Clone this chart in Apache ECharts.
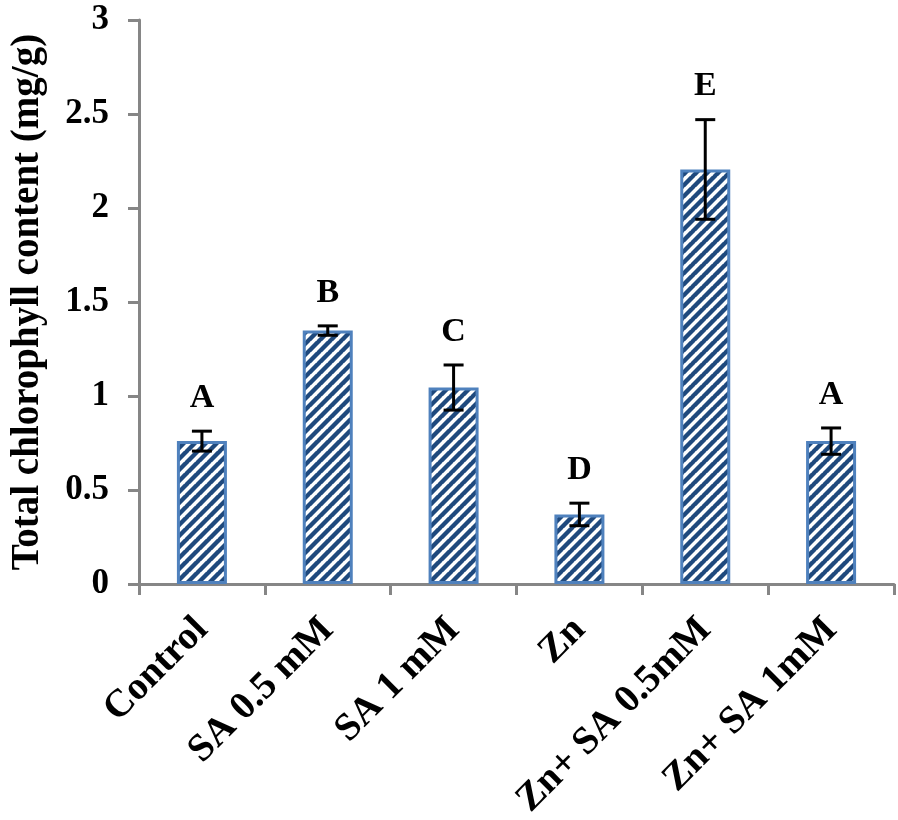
<!DOCTYPE html>
<html>
<head>
<meta charset="utf-8">
<script src="https://cdn.jsdelivr.net/npm/echarts@6/dist/echarts.min.js"></script>
<style>html,body{margin:0;padding:0;background:#fff;}#c{width:898px;height:820px;}</style>
</head>
<body>
<div id="c"></div>
<script>
const categories = ['Control', 'SA 0.5 mM', 'SA 1 mM', 'Zn', 'Zn+ SA 0.5mM', 'Zn+ SA 1mM'];
const means = [0.76, 1.348, 1.045, 0.37, 2.205, 0.76];
const errors = [0.053, 0.025, 0.12, 0.06, 0.265, 0.07];
const letters = ['A', 'B', 'C', 'D', 'E', 'A'];
const yTicks = [0, 0.5, 1, 1.5, 2, 2.5, 3];

const FONT = "'Liberation Serif', 'Times New Roman', serif";

// striped pattern
const tile = document.createElement('canvas');
const P = 11;
tile.width = P; tile.height = P;
const ctx = tile.getContext('2d');
ctx.fillStyle = '#ffffff';
ctx.fillRect(0, 0, P, P);
ctx.strokeStyle = '#1F497D';
ctx.lineWidth = 4.4;
for (let k = -1; k <= 1; k++) {
  ctx.beginPath();
  ctx.moveTo(k * P - 1, P + 1);
  ctx.lineTo(k * P + P + 1, -1);
  ctx.stroke();
}

const chart = echarts.init(document.getElementById('c'));
chart.setOption({
  animation: false,
  backgroundColor: '#ffffff',
  grid: { left: 139, right: 4, top: 20, bottom: 236, containLabel: false, outerBoundsMode: 'none' },
  xAxis: {
    type: 'category',
    data: categories,
    axisLine: { lineStyle: { color: '#868686', width: 3 } },
    axisTick: { show: true, length: 11, lineStyle: { color: '#868686', width: 3 } },
    axisLabel: {
      rotate: 45, margin: 40, color: '#000', fontFamily: FONT, fontWeight: 'bold', fontSize: 39, interval: 0
    }
  },
  yAxis: {
    type: 'value',
    min: 0, max: 3, interval: 0.5,
    name: 'Total chlorophyll content (mg/g)',
    nameLocation: 'middle',
    nameGap: 92,
    nameTextStyle: { color: '#000', fontFamily: FONT, fontWeight: 'bold', fontSize: 39 },
    axisLine: { show: true, lineStyle: { color: '#868686', width: 3 } },
    axisTick: { show: true, length: 11, lineStyle: { color: '#868686', width: 3 } },
    splitLine: { show: false },
    axisLabel: {
      margin: 30, color: '#000', fontFamily: FONT, fontWeight: 'bold', fontSize: 35,
      formatter: function (v) { return yTicks.indexOf(v) >= 0 ? String(v) : ''; }
    }
  },
  series: [
    {
      type: 'bar',
      data: means,
      barWidth: 50,
      itemStyle: {
        color: { image: tile, repeat: 'repeat' },
        borderColor: '#4F81BD',
        borderWidth: 3
      }
    },
    {
      type: 'custom',
      data: means.map((m, i) => [i, m, errors[i]]),
      z: 10,
      renderItem: function (params, api) {
        const i = api.value(0), m = api.value(1), e = api.value(2);
        const top = api.coord([i, m + e]);
        const bot = api.coord([i, m - e]);
        const hw = 10;
        const st = { stroke: '#000', lineWidth: 3 };
        return {
          type: 'group',
          children: [
            { type: 'line', shape: { x1: top[0], y1: top[1], x2: bot[0], y2: bot[1] }, style: st },
            { type: 'line', shape: { x1: top[0] - hw, y1: top[1], x2: top[0] + hw, y2: top[1] }, style: st },
            { type: 'line', shape: { x1: bot[0] - hw, y1: bot[1], x2: bot[0] + hw, y2: bot[1] }, style: st },
            { type: 'text', style: { text: letters[params.dataIndex], x: top[0], y: top[1] - 16,
                textAlign: 'center', textVerticalAlign: 'bottom', fill: '#000',
                font: 'bold 34px ' + FONT } }
          ]
        };
      }
    }
  ]
});
</script>
</body>
</html>
